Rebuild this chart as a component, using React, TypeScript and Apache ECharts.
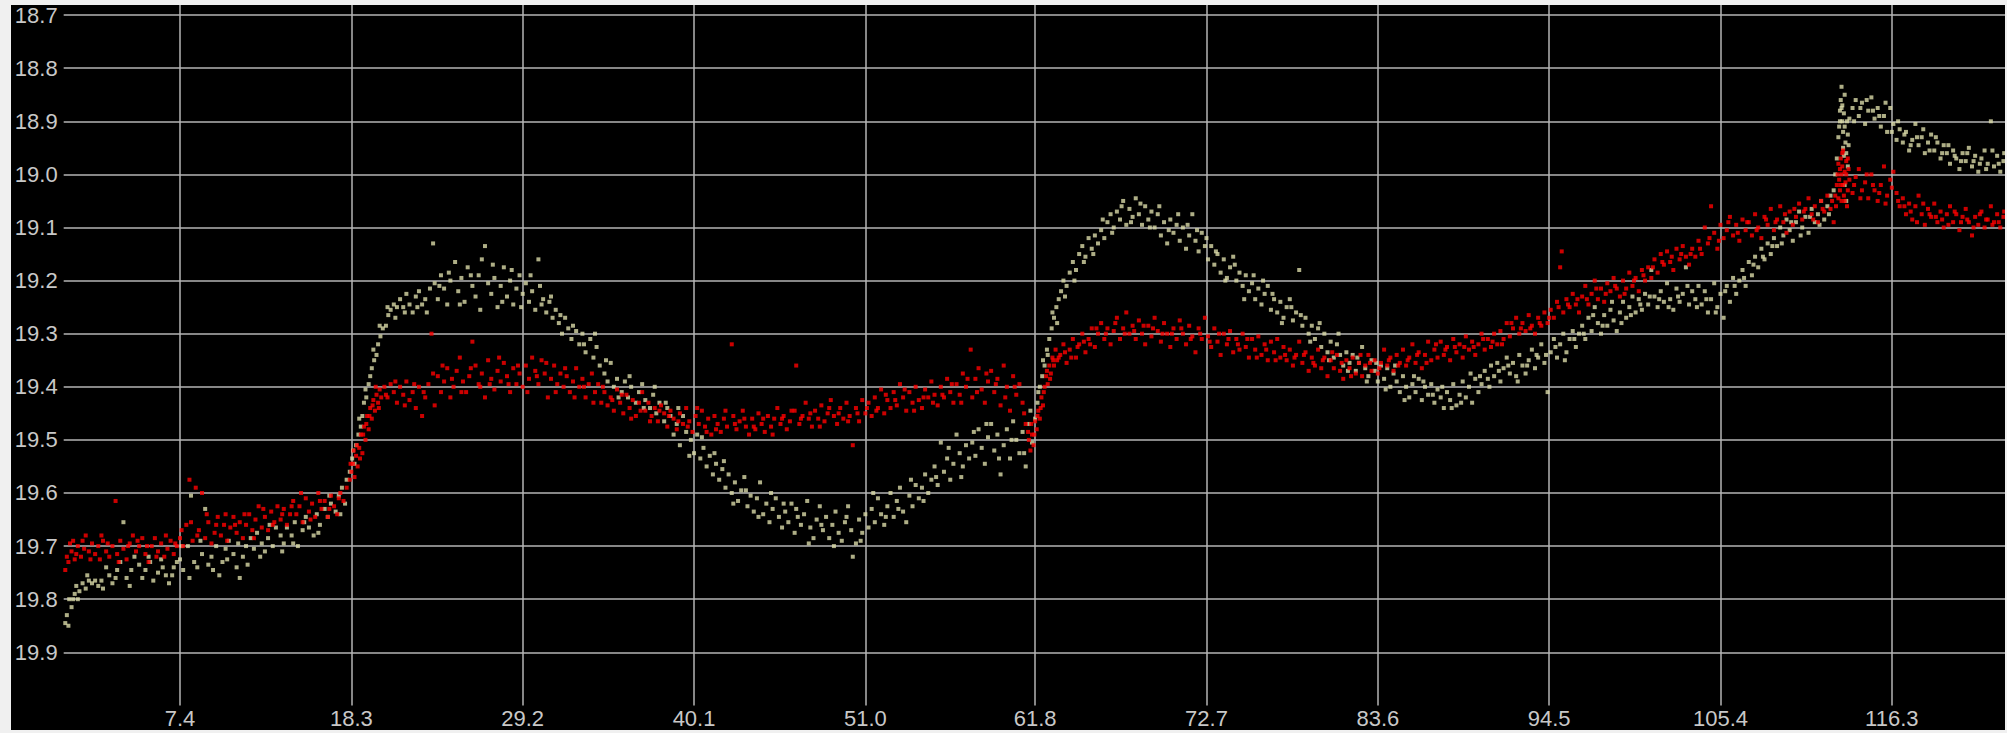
import React, { useEffect, useRef } from "react";
import * as echarts from "echarts";

const xTickValues = [7.4, 18.3, 29.2, 40.1, 51.0, 61.8, 72.7, 83.6, 94.5, 105.4, 116.3];
const yTickValues = [18.7, 18.8, 18.9, 19.0, 19.1, 19.2, 19.3, 19.4, 19.5, 19.6, 19.7, 19.8, 19.9];

const yellowPoints: [number, number][] = [
  [0.1,19.845],[0.2,19.83],[0.3,19.85],[0.5,19.815],[0.6,19.80],[0.7,19.79],[0.9,19.80],[1.0,19.785],[1.2,19.77],
  [1.4,19.78],[1.6,19.765],[1.8,19.77],[2.0,19.765],[2.2,19.775],[2.4,19.765],[2.7,19.74],[2.9,19.755],[3.1,19.77],[3.4,19.745],[3.6,19.73],[3.8,19.655],[4.0,19.76],[4.3,19.745],[4.5,19.72],[4.8,19.735],[5.0,19.76],[5.2,19.745],[5.5,19.73],[5.7,19.765],[6.0,19.75],[6.2,19.725],[6.5,19.755],[6.7,19.77],[7.0,19.74],[7.2,19.73],
  [7.4,19.725],[7.6,19.745],[7.9,19.70],[8.1,19.605],[8.3,19.73],[8.5,19.74],[8.8,19.715],[9.0,19.63],[9.2,19.735],[9.4,19.72],[9.7,19.70],[9.9,19.755],[10.1,19.73],[10.3,19.705],[10.5,19.69],[10.8,19.715],[11.0,19.74],[11.2,19.76],[11.4,19.72],[11.6,19.70],[11.9,19.685],[12.1,19.705],[12.3,19.675],[12.6,19.695],[12.8,19.71],[13.0,19.685],[13.3,19.70],[13.5,19.665],
  [13.8,19.68],[14.0,19.695],[14.2,19.665],[14.5,19.68],[14.7,19.655],[14.9,19.70],[15.2,19.67],[15.4,19.645],[15.6,19.665],[15.9,19.68],[16.1,19.64],[16.3,19.66],[16.6,19.63],[16.8,19.645],[17.0,19.62],[17.3,19.635],[17.5,19.605],[17.7,19.59],[17.9,19.62],[18.0,19.575],
  [18.2,19.56],[18.35,19.535],[18.5,19.545],[18.6,19.51],[18.75,19.49],[18.9,19.475],[19.0,19.455],[19.1,19.43],[19.25,19.42],[19.4,19.395],[19.5,19.38],[19.6,19.365],[19.75,19.35],[19.9,19.34],[20.0,19.32],[20.15,19.305],[20.3,19.29],[20.5,19.285],[20.65,19.265],[20.8,19.255],[21.0,19.245],[21.2,19.25],
  [21.4,19.235],[21.6,19.25],[21.8,19.225],[22.0,19.245],[22.2,19.26],[22.4,19.23],[22.6,19.22],[22.8,19.245],[23.0,19.235],
  [23.3,19.215],[23.5,19.13],[23.6,19.205],[23.8,19.235],[24.0,19.19],[24.2,19.215],[24.4,19.245],[24.6,19.20],[24.9,19.165],[25.1,19.22],[25.3,19.195],[25.5,19.24],[25.7,19.175],[26.0,19.21],[26.2,19.23],[26.4,19.19],[26.6,19.16],[26.8,19.135],[27.0,19.205],[27.2,19.225],[27.4,19.195],[27.6,19.25],[27.8,19.21],[28.0,19.175],[28.2,19.23],[28.4,19.20],[28.6,19.245],[28.8,19.215],[29.0,19.19],[29.2,19.225],
  [29.4,19.205],[29.6,19.24],[29.8,19.22],[30.0,19.255],[30.2,19.16],[30.3,19.21],[30.5,19.235],[30.7,19.26],[30.9,19.24],[31.1,19.27],
  [31.3,19.255],[31.5,19.28],[31.7,19.30],[31.9,19.27],[32.1,19.29],[32.3,19.31],[32.6,19.295],[32.8,19.32],[33.0,19.30],[33.2,19.335],[33.5,19.31],[33.7,19.345],[33.9,19.325],[34.1,19.36],
  [34.4,19.375],[34.6,19.39],[34.8,19.355],[35.0,19.40],[35.2,19.385],[35.5,19.41],[35.7,19.39],[35.9,19.42],[36.1,19.40],[36.4,19.43],[36.6,19.41],[36.8,19.395],[37.0,19.425],
  [37.3,19.44],[37.5,19.415],[37.7,19.45],[37.9,19.43],[38.2,19.465],[38.4,19.44],[38.6,19.455],[38.8,19.49],[39.0,19.47],[39.2,19.51],[39.4,19.455],[39.6,19.485],
  [39.9,19.50],[40.1,19.525],[40.3,19.49],[40.5,19.535],[40.7,19.515],[40.9,19.55],[41.1,19.53],[41.3,19.565],[41.5,19.545],[41.7,19.575],[41.9,19.555],[42.1,19.59],
  [42.3,19.565],[42.5,19.60],[42.7,19.58],[42.9,19.615],[43.1,19.595],[43.3,19.57],[43.5,19.625],[43.7,19.605],[43.9,19.635],[44.1,19.61],[44.3,19.58],[44.5,19.64],[44.7,19.62],[44.9,19.655],[45.1,19.63],[45.3,19.61],[45.5,19.645],[45.7,19.665],[45.9,19.635],[46.1,19.655],[46.3,19.62],[46.5,19.675],[46.7,19.645],[46.9,19.66],
  [47.1,19.64],[47.3,19.615],[47.5,19.665],[47.7,19.685],[47.9,19.65],[48.1,19.625],[48.3,19.67],[48.5,19.645],[48.7,19.685],[48.9,19.66],[49.1,19.635],[49.3,19.675],[49.5,19.69],[49.7,19.655],[49.9,19.625],[50.1,19.67],[50.2,19.72],[50.4,19.695],[50.6,19.65],[50.8,19.675],[51.0,19.64],
  [51.2,19.665],[51.4,19.63],[51.6,19.655],[51.8,19.61],[52.0,19.64],[52.2,19.66],[52.4,19.625],[52.6,19.60],[52.8,19.645],[53.0,19.615],[53.2,19.59],[53.4,19.635],[53.6,19.655],[53.8,19.605],[54.0,19.625],[54.2,19.585],[54.4,19.61],
  [54.6,19.59],[54.8,19.565],[55.0,19.60],[55.2,19.575],[55.4,19.55],[55.6,19.585],[55.8,19.505],[56.0,19.56],[56.2,19.535],[56.4,19.575],[56.6,19.545],[56.8,19.49],[57.0,19.525],[57.2,19.55],[57.4,19.51],[57.6,19.535],
  [57.8,19.505],[58.0,19.53],[58.2,19.48],[58.4,19.515],[58.6,19.545],[58.8,19.495],[59.0,19.47],[59.2,19.52],[59.4,19.49],[59.6,19.565],[59.8,19.51],[60.0,19.48],[60.2,19.535],[60.4,19.465],[60.6,19.50],[60.8,19.525],[61.0,19.485],[61.2,19.55],[61.4,19.47],[61.6,19.505],
  [61.8,19.46],[61.95,19.43],[62.1,19.40],[62.25,19.38],[62.4,19.36],[62.55,19.33],[62.7,19.31],[62.85,19.29],[63.0,19.27],[63.15,19.25],[63.3,19.235],[63.45,19.22],[63.6,19.20],[63.8,19.21],[64.0,19.185],
  [64.2,19.165],[64.4,19.18],[64.6,19.15],[64.8,19.135],[65.0,19.155],[65.2,19.12],[65.4,19.14],[65.6,19.115],[65.8,19.13],[66.0,19.105],[66.2,19.12],
  [66.4,19.09],[66.6,19.075],[66.8,19.10],[67.0,19.07],[67.2,19.085],[67.4,19.05],[67.6,19.095],[67.8,19.065],[68.0,19.08],[68.2,19.045],[68.4,19.075],[68.6,19.095],[68.8,19.06],[69.0,19.085],[69.2,19.07],
  [69.4,19.10],[69.6,19.075],[69.8,19.115],[70.0,19.09],[70.2,19.13],[70.4,19.085],[70.6,19.11],[70.8,19.095],[71.0,19.125],[71.2,19.10],[71.4,19.14],[71.6,19.115],[71.8,19.075],[72.0,19.125],[72.2,19.145],[72.4,19.11],[72.6,19.135],
  [72.8,19.16],[73.0,19.135],[73.2,19.17],[73.4,19.15],[73.6,19.185],[73.8,19.16],[74.0,19.195],[74.2,19.175],[74.4,19.155],[74.6,19.20],[74.8,19.185],[75.0,19.21],[75.2,19.19],[75.4,19.22],
  [75.6,19.205],[75.8,19.235],[76.0,19.215],[76.2,19.245],[76.4,19.225],[76.6,19.21],[76.8,19.255],[77.0,19.235],[77.2,19.26],[77.4,19.24],[77.6,19.27],[77.8,19.25],[78.0,19.235],[78.2,19.275],[78.4,19.26],[78.6,19.18],[78.8,19.285],
  [79.0,19.27],[79.2,19.30],[79.4,19.285],[79.6,19.31],[79.8,19.29],[80.0,19.325],[80.2,19.30],[80.4,19.335],[80.6,19.315],[80.8,19.345],[81.0,19.32],[81.2,19.34],[81.4,19.36],[81.6,19.335],[81.8,19.355],
  [82.0,19.34],[82.2,19.37],[82.4,19.355],[82.6,19.325],[82.8,19.365],[83.0,19.38],[83.2,19.35],[83.4,19.37],[83.6,19.39],[83.8,19.36],[84.0,19.385],[84.2,19.365],[84.4,19.40],[84.6,19.375],[84.8,19.39],[85.0,19.41],[85.2,19.38],[85.4,19.40],[85.6,19.42],[85.8,19.395],[86.0,19.41],[86.2,19.385],[86.4,19.425],[86.6,19.40],[86.8,19.415],[87.0,19.395],
  [87.2,19.43],[87.4,19.405],[87.6,19.42],[87.8,19.44],[88.0,19.41],[88.2,19.425],[88.4,19.395],[88.6,19.435],[88.8,19.415],[89.0,19.39],[89.2,19.42],[89.4,19.40],[89.6,19.43],[89.8,19.385],[90.0,19.41],[90.2,19.395],
  [90.4,19.37],[90.6,19.385],[90.8,19.36],[91.0,19.38],[91.2,19.355],[91.4,19.39],[91.6,19.365],[91.8,19.345],[92.0,19.375],[92.2,19.355],[92.4,19.38],[92.6,19.34],[92.8,19.36],[93.0,19.375],[93.2,19.35],[93.4,19.33],[93.6,19.365],[93.8,19.345],[94.0,19.32],[94.2,19.355],[94.4,19.41],
  [94.6,19.335],[94.8,19.31],[95.0,19.345],[95.2,19.32],[95.4,19.30],[95.6,19.335],[95.8,19.31],[96.0,19.295],[96.2,19.325],[96.4,19.30],
  [96.6,19.285],[96.8,19.31],[97.0,19.27],[97.2,19.295],[97.4,19.25],[97.6,19.28],[97.8,19.30],[98.0,19.265],[98.2,19.285],[98.4,19.255],[98.6,19.275],[98.8,19.295],[99.0,19.26],[99.2,19.24],[99.4,19.27],[99.6,19.25],[99.8,19.23],[100.0,19.26],
  [100.2,19.235],[100.4,19.255],[100.6,19.225],[100.8,19.245],[101.0,19.18],[101.2,19.23],[101.4,19.25],[101.6,19.22],[101.8,19.24],[102.0,19.205],[102.2,19.235],[102.4,19.255],[102.6,19.215],[102.8,19.24],[103.0,19.225],[103.2,19.175],[103.4,19.245],[103.6,19.22],[103.8,19.235],[104.0,19.21],
  [104.2,19.245],[104.4,19.22],[104.6,19.26],[104.8,19.235],[105.0,19.205],[105.2,19.25],[105.4,19.225],[105.6,19.27],[105.8,19.21],[106.0,19.24],[106.2,19.195],[106.4,19.225],
  [106.6,19.20],[106.8,19.18],[107.0,19.21],[107.2,19.165],[107.4,19.19],[107.6,19.155],[107.8,19.175],[108.0,19.14],[108.2,19.16],[108.4,19.13],[108.6,19.15],
  [108.8,19.12],[109.0,19.135],[109.2,19.10],[109.4,19.115],[109.6,19.085],[109.8,19.105],[110.0,19.125],[110.2,19.09],[110.4,19.07],[110.6,19.10],[110.8,19.08],[111.0,19.11],[111.2,19.065],[111.4,19.09],[111.6,19.075],[111.8,19.05],[112.0,19.085],[112.2,19.06],[112.4,19.04],
  [112.6,19.03],[112.7,19.0],[112.8,18.97],[112.9,18.93],[113.0,18.90],[113.0,18.88],[113.05,18.86],[113.1,18.835],[113.1,18.875],[113.15,18.90],[113.2,18.92],[113.2,18.95],[113.25,18.885],[113.3,18.91],[113.35,18.94],[113.4,18.96],[113.5,18.985],[113.5,18.925],[113.6,18.895],[113.3,19.02],[113.4,19.05],
  [113.8,18.875],[114.0,18.86],[114.2,18.89],[114.4,18.865],[114.6,18.905],[114.8,18.88],[115.0,18.855],[115.2,18.895],[115.4,18.875],[115.6,18.91],[115.8,18.89],[116.0,18.92],[116.2,18.875],[116.4,18.905],[116.6,18.935],
  [116.8,18.915],[117.0,18.94],[117.2,18.92],[117.4,18.955],[117.6,18.935],[117.8,18.905],[118.0,18.945],[118.2,18.93],[118.4,18.96],[118.6,18.94],[118.8,18.925],[119.0,18.955],[119.2,18.94],[119.4,18.97],[119.6,18.945],[119.8,18.96],[120.0,18.98],[120.2,18.955],[120.4,18.97],[120.6,18.99],[120.8,18.96],[121.0,18.975],[121.2,18.95],[121.4,18.985],[121.6,18.965],[121.8,18.995],[122.0,18.97],[122.2,18.955],[122.4,18.98],[122.6,18.90],[122.8,18.985],[123.0,18.965],[123.2,18.995],[123.4,18.975]
];

const yellowExtra: [number, number][] = [
  [0.35,19.80],[0.8,19.775],[1.5,19.755],[2.5,19.78],[3.3,19.76],[4.2,19.775],[5.4,19.72],[6.3,19.74],[6.9,19.755],
  [7.5,19.70],[8.0,19.76],[8.7,19.69],[9.5,19.745],[10.4,19.725],[11.1,19.695],[11.7,19.735],[12.5,19.72],[13.1,19.66],
  [13.9,19.71],[14.6,19.695],[15.3,19.655],[16.2,19.675],[16.9,19.605],[17.6,19.64],
  [18.4,19.52],[18.8,19.46],[19.2,19.405],[19.7,19.33],[20.1,19.285],[20.6,19.25],[21.1,19.27],
  [21.7,19.26],[22.5,19.25],[23.1,19.26],[23.9,19.21],[24.5,19.185],[25.2,19.245],[25.9,19.19],[26.5,19.255],[27.3,19.17],[27.9,19.24],[28.5,19.18],[29.1,19.25],[29.7,19.19],[30.4,19.245],[31.0,19.23],
  [31.6,19.265],[32.4,19.285],[33.1,19.32],[33.8,19.30],[34.5,19.35],[35.3,19.42],[36.0,19.38],[36.9,19.44],[37.6,19.40],[38.3,19.43],[39.1,19.44],[39.8,19.53],[40.6,19.495],[41.4,19.525],[42.0,19.54],
  [42.6,19.62],[43.4,19.595],[44.2,19.645],[45.0,19.60],[45.8,19.62],[46.6,19.63],[47.4,19.695],[48.2,19.66],[49.0,19.70],[49.8,19.645],[50.7,19.69],
  [51.5,19.60],[52.3,19.645],[53.1,19.63],[53.9,19.575],[54.7,19.615],[55.5,19.57],[56.3,19.515],[57.1,19.57],[57.9,19.485],[58.7,19.47],[59.5,19.535],[60.3,19.50],[61.1,19.525],[61.5,19.445],
  [62.0,19.41],[62.3,19.35],[62.6,19.34],[62.9,19.26],[63.2,19.28],[63.7,19.23],[64.3,19.20],[64.9,19.165],[65.5,19.15],[66.1,19.085],
  [66.7,19.11],[67.3,19.06],[67.9,19.09],[68.5,19.055],[69.1,19.10],[69.7,19.06],[70.3,19.105],[70.9,19.075],[71.5,19.095],[72.1,19.105],[72.7,19.12],
  [73.3,19.145],[73.9,19.20],[74.5,19.17],[75.1,19.235],[75.7,19.19],[76.3,19.20],[76.9,19.225],[77.5,19.28],[78.1,19.25],[78.7,19.265],[79.3,19.315],[79.9,19.28],[80.5,19.35],[81.1,19.30],[81.7,19.37],
  [82.3,19.345],[82.9,19.39],[83.5,19.355],[84.1,19.405],[84.7,19.36],[85.3,19.425],[85.9,19.38],[86.5,19.39],[87.1,19.415],[87.7,19.40],[88.3,19.44],[88.9,19.43],[89.5,19.375],[90.1,19.38],[90.7,19.40],[91.3,19.37],[91.9,19.36],[92.5,19.39],[93.1,19.36],[93.7,19.34],[94.3,19.34],
  [94.9,19.325],[95.5,19.35],[96.1,19.31],[96.7,19.30],[97.3,19.265],[97.9,19.285],[98.5,19.24],[99.1,19.28],[99.7,19.265],[100.3,19.245],[100.9,19.23],[101.5,19.235],[102.1,19.25],[102.7,19.23],[103.3,19.21],[103.9,19.25],
  [104.5,19.235],[105.1,19.26],[105.7,19.22],[106.3,19.21],[106.9,19.195],[107.5,19.17],[108.1,19.155],[108.7,19.135],[109.3,19.13],[109.9,19.09],[110.5,19.115],[111.1,19.08],[111.7,19.095],[112.3,19.075],
  [112.95,18.91],[113.15,18.87],[113.3,18.85],[113.45,18.90],[113.55,18.945],[113.25,18.965],
  [113.9,18.90],[114.3,18.875],[114.7,18.86],[115.1,18.88],[115.5,18.89],[115.9,18.865],[116.3,18.92],[116.7,18.90],[117.1,18.925],[117.5,18.945],[117.9,18.93],[118.3,18.915],[118.7,18.955],[119.1,18.93],[119.5,18.96],[119.9,18.945],[120.3,18.965],[120.7,18.975],[121.1,18.96],[121.5,18.975],[121.9,18.98],[122.3,18.99],[122.7,18.955],[123.1,18.98],[123.45,18.96]
];

const redPoints: [number, number][] = [
  [0.1,19.745],[0.2,19.72],[0.3,19.73],[0.5,19.71],[0.6,19.69],[0.8,19.715],[0.9,19.70],[1.1,19.72],[1.3,19.705],[1.4,19.68],[1.6,19.71],[1.8,19.695],[2.0,19.715],[2.2,19.70],[2.3,19.725],[2.5,19.69],[2.7,19.71],[2.9,19.72],[3.1,19.70],[3.3,19.615],[3.4,19.715],[3.6,19.69],[3.8,19.705],[4.0,19.725],[4.2,19.695],[4.4,19.68],[4.6,19.71],[4.8,19.70],[5.0,19.685],[5.2,19.715],[5.4,19.73],[5.6,19.70],[5.8,19.685],[6.0,19.71],[6.2,19.695],[6.4,19.72],[6.6,19.705],[6.8,19.69],[7.0,19.715],
  [7.2,19.70],[7.4,19.685],[7.6,19.70],[7.8,19.66],[8.0,19.575],[8.2,19.69],[8.4,19.59],[8.6,19.67],[8.8,19.60],[9.0,19.685],[9.2,19.655],[9.4,19.695],[9.6,19.675],[9.8,19.645],[10.0,19.68],[10.2,19.66],
  [10.4,19.69],[10.6,19.665],[10.8,19.645],[11.0,19.675],[11.2,19.655],[11.4,19.685],[11.6,19.66],[11.8,19.64],[12.0,19.67],[12.2,19.65],[12.4,19.625],[12.6,19.665],[12.8,19.645],[13.0,19.67],[13.2,19.635],[13.4,19.655],[13.6,19.625],[13.8,19.65],[14.0,19.63],[14.2,19.66],[14.4,19.64],
  [14.6,19.615],[14.8,19.64],[15.0,19.625],[15.2,19.655],[15.4,19.61],[15.6,19.635],[15.8,19.62],[16.0,19.645],[16.2,19.60],[16.4,19.63],[16.6,19.615],[16.8,19.645],[17.0,19.605],[17.2,19.625],[17.4,19.64],[17.6,19.60],[17.8,19.615],[18.0,19.59],
  [18.2,19.575],[18.3,19.56],[18.4,19.545],[18.5,19.57],[18.6,19.53],[18.7,19.55],[18.8,19.515],[18.9,19.49],[19.0,19.525],[19.1,19.475],[19.2,19.50],[19.3,19.455],[19.4,19.48],[19.5,19.44],[19.6,19.46],[19.7,19.425],[19.8,19.445],[19.9,19.415],[20.0,19.43],[20.1,19.405],[20.2,19.42],
  [20.4,19.40],[20.6,19.42],[20.8,19.395],[21.0,19.41],[21.2,19.43],[21.4,19.40],[21.6,19.415],[21.8,19.39],[22.0,19.425],[22.2,19.41],[22.4,19.44],[22.6,19.40],[22.8,19.455],[23.0,19.42],
  [23.2,19.395],[23.4,19.30],[23.6,19.435],[23.8,19.38],[24.0,19.41],[24.2,19.39],[24.4,19.365],[24.6,19.42],[24.8,19.40],[25.0,19.37],[25.2,19.345],[25.4,19.39],[25.6,19.41],[25.8,19.38],[26.0,19.315],[26.2,19.36],[26.4,19.395],[26.6,19.375],[26.8,19.42],[27.0,19.35],[27.2,19.385],[27.4,19.405],[27.6,19.37],[27.8,19.39],[28.0,19.355],[28.2,19.38],[28.4,19.41],[28.6,19.365],[28.8,19.395],[29.0,19.375],
  [29.2,19.40],[29.4,19.36],[29.6,19.385],[29.8,19.345],[30.0,19.37],[30.2,19.395],[30.4,19.35],[30.6,19.375],[30.8,19.42],[31.0,19.385],[31.2,19.36],[31.4,19.395],[31.6,19.375],[31.8,19.40],[32.0,19.38],[32.2,19.41],[32.4,19.39],[32.6,19.365],[32.8,19.40],[33.0,19.385],[33.2,19.42],[33.4,19.395],[33.6,19.375],[33.8,19.41],[34.0,19.395],[34.2,19.43],
  [34.4,19.41],[34.6,19.435],[34.8,19.42],[35.0,19.445],[35.2,19.405],[35.4,19.43],[35.6,19.45],[35.8,19.415],[36.0,19.44],[36.2,19.425],[36.4,19.455],[36.6,19.43],[36.8,19.41],[37.0,19.445],
  [37.2,19.43],[37.4,19.455],[37.6,19.44],[37.8,19.465],[38.0,19.435],[38.2,19.45],[38.4,19.475],[38.6,19.445],[38.8,19.46],[39.0,19.48],[39.2,19.45],[39.4,19.47],[39.6,19.44],[39.8,19.465],[40.0,19.485],[40.2,19.455],[40.4,19.47],[40.6,19.445],[40.8,19.475],[41.0,19.46],[41.2,19.49],[41.4,19.455],[41.6,19.47],[41.8,19.485],[42.0,19.46],
  [42.2,19.475],[42.5,19.32],[42.6,19.455],[42.8,19.48],[43.0,19.465],[43.2,19.445],[43.4,19.475],[43.6,19.49],[43.8,19.46],[44.0,19.48],[44.2,19.45],[44.4,19.47],[44.6,19.485],[44.8,19.455],[45.0,19.475],[45.2,19.46],[45.4,19.44],[45.6,19.47],[45.8,19.455],[46.0,19.48],
  [46.2,19.465],[46.5,19.445],[46.6,19.36],[46.8,19.47],[47.0,19.455],[47.2,19.43],[47.4,19.46],[47.6,19.475],[47.8,19.445],[48.0,19.46],[48.2,19.435],[48.4,19.465],[48.6,19.45],[48.8,19.425],[49.0,19.455],[49.2,19.47],[49.4,19.44],[49.6,19.46],[49.8,19.43],[50.0,19.455],[50.2,19.51],[50.4,19.44],[50.6,19.465],[50.8,19.425],[51.0,19.45],
  [51.2,19.43],[51.4,19.455],[51.6,19.42],[51.8,19.44],[52.0,19.405],[52.2,19.45],[52.4,19.425],[52.6,19.44],[52.8,19.41],[53.0,19.435],[53.2,19.395],[53.4,19.42],[53.6,19.445],[53.8,19.41],[54.0,19.43],[54.2,19.40],[54.4,19.425],[54.6,19.44],[54.8,19.405],[55.0,19.42],[55.2,19.39],[55.4,19.415],[55.6,19.435],[55.8,19.40],[56.0,19.42],[56.2,19.385],[56.4,19.41],[56.6,19.43],
  [56.8,19.395],[57.0,19.415],[57.2,19.375],[57.4,19.40],[57.7,19.33],[57.8,19.42],[58.0,19.385],[58.2,19.365],[58.4,19.405],[58.6,19.43],[58.8,19.39],[59.0,19.37],[59.2,19.41],[59.4,19.385],[59.6,19.435],[59.8,19.36],[60.0,19.40],[60.2,19.445],[60.4,19.38],[60.6,19.415],[60.8,19.395],[61.0,19.43],
  [61.2,19.47],[61.4,19.50],[61.5,19.52],[61.6,19.49],[61.7,19.51],[61.8,19.465],[61.9,19.48],[62.0,19.445],[62.1,19.46],[62.2,19.42],[62.3,19.435],[62.4,19.40],[62.5,19.38],[62.6,19.395],[62.7,19.36],[62.8,19.375],[62.9,19.345],[63.0,19.36],[63.1,19.33],[63.2,19.35],
  [63.4,19.34],[63.6,19.32],[63.8,19.355],[64.0,19.33],[64.2,19.31],[64.4,19.345],[64.6,19.32],[64.8,19.30],[65.0,19.335],[65.2,19.31],[65.4,19.29],[65.6,19.325],[65.8,19.30],[66.0,19.28],
  [66.2,19.31],[66.4,19.29],[66.6,19.32],[66.8,19.295],[67.0,19.27],[67.2,19.31],[67.4,19.29],[67.6,19.26],[67.8,19.30],[68.0,19.285],[68.2,19.31],[68.4,19.275],[68.6,19.30],[68.8,19.32],[69.0,19.285],[69.2,19.305],[69.4,19.27],[69.6,19.295],[69.8,19.315],[70.0,19.28],[70.2,19.30],[70.4,19.325],[70.6,19.29],[70.8,19.31],[71.0,19.275],[71.2,19.30],[71.4,19.32],[71.6,19.285],[71.8,19.305],[72.0,19.335],[72.2,19.29],[72.4,19.31],[72.6,19.27],
  [72.8,19.305],[73.0,19.325],[73.2,19.29],[73.4,19.315],[73.6,19.34],[73.8,19.30],[74.0,19.32],[74.2,19.295],[74.4,19.335],[74.6,19.31],[74.8,19.33],[75.0,19.30],[75.2,19.325],[75.4,19.345],[75.6,19.31],[75.8,19.33],[76.0,19.305],[76.2,19.34],[76.4,19.32],[76.6,19.35],[76.8,19.315],[77.0,19.335],[77.2,19.31],[77.4,19.345],
  [77.6,19.325],[77.8,19.35],[78.0,19.33],[78.2,19.36],[78.4,19.34],[78.6,19.315],[78.8,19.355],[79.0,19.335],[79.2,19.37],[79.4,19.345],[79.6,19.36],[79.8,19.33],[80.0,19.365],[80.2,19.345],[80.4,19.38],[80.6,19.35],[80.8,19.365],[81.0,19.34],[81.2,19.37],[81.4,19.385],[81.6,19.35],[81.8,19.365],[82.0,19.345],[82.2,19.375],[82.4,19.355],[82.6,19.38],[82.8,19.36],[83.0,19.34],[83.2,19.37],[83.4,19.35],[83.6,19.375],[83.8,19.355],[84.0,19.33],[84.2,19.36],[84.4,19.345],
  [84.6,19.37],[84.8,19.34],[85.0,19.355],[85.2,19.33],[85.4,19.36],[85.6,19.345],[85.8,19.32],[86.0,19.355],[86.2,19.335],[86.4,19.365],[86.6,19.34],[86.8,19.315],
  [87.0,19.35],[87.2,19.33],[87.4,19.345],[87.6,19.315],[87.8,19.34],[88.0,19.325],[88.2,19.35],[88.4,19.31],[88.6,19.335],[88.8,19.32],[89.0,19.345],[89.2,19.305],[89.4,19.33],[89.6,19.315],[89.8,19.34],[90.0,19.32],[90.2,19.30],[90.4,19.33],[90.6,19.31],[90.8,19.325],[91.0,19.30],[91.2,19.32],
  [91.4,19.295],[91.6,19.31],[91.8,19.28],[92.0,19.305],[92.2,19.29],[92.4,19.27],[92.6,19.30],[92.8,19.28],[93.0,19.295],[93.2,19.265],[93.4,19.285],[93.6,19.30],[93.8,19.27],[94.0,19.285],[94.2,19.26],[94.4,19.28],
  [94.6,19.255],[94.8,19.27],[95.0,19.24],[95.2,19.175],[95.3,19.145],[95.4,19.26],[95.6,19.235],[95.8,19.25],[96.0,19.225],[96.2,19.245],[96.4,19.26],[96.6,19.23],[96.8,19.21],[97.0,19.245],
  [97.2,19.225],[97.4,19.20],[97.6,19.235],[97.8,19.215],[98.0,19.24],[98.2,19.205],[98.4,19.22],[98.6,19.195],[98.8,19.215],[99.0,19.23],[99.2,19.20],[99.4,19.215],[99.6,19.185],[99.8,19.21],[100.0,19.195],[100.2,19.22],[100.4,19.18],[100.6,19.20],[100.8,19.175],
  [101.0,19.195],[101.2,19.16],[101.4,19.185],[101.6,19.15],[101.8,19.17],[102.0,19.145],[102.2,19.165],[102.4,19.18],[102.6,19.14],[102.8,19.16],[103.0,19.135],[103.2,19.155],[103.4,19.17],[103.6,19.14],[103.8,19.155],[104.0,19.125],[104.4,19.10],[104.8,19.06],
  [104.2,19.15],[104.6,19.13],[105.0,19.11],[105.2,19.14],[105.4,19.095],[105.6,19.12],[105.8,19.105],[106.0,19.08],[106.2,19.115],[106.4,19.095],[106.6,19.125],[106.8,19.085],[107.0,19.105],
  [107.2,19.09],[107.4,19.115],[107.6,19.075],[107.8,19.10],[108.0,19.12],[108.2,19.08],[108.4,19.095],[108.6,19.065],[108.8,19.105],[109.0,19.085],[109.2,19.06],[109.4,19.09],[109.6,19.11],[109.8,19.07],[110.0,19.095],[110.2,19.08],[110.4,19.055],[110.6,19.085],[110.8,19.065],[111.0,19.045],[111.2,19.075],[111.4,19.06],[111.6,19.09],[111.8,19.05],[112.0,19.07],[112.2,19.04],[112.4,19.065],[112.6,19.09],
  [112.7,19.04],[112.8,19.02],[112.85,19.0],[112.9,18.98],[112.95,19.01],[113.0,18.99],[113.0,19.03],[113.05,18.97],[113.1,19.0],[113.1,19.05],[113.15,18.985],[113.2,19.02],[113.2,18.955],[113.25,19.04],[113.3,18.995],[113.35,19.015],[113.4,18.975],[113.45,19.06],[113.5,19.03],[113.55,18.99],[113.6,19.01],
  [113.8,19.035],[114.0,19.005],[114.2,18.99],[114.4,19.03],[114.6,19.015],[114.8,19.045],[115.0,19.0],[115.2,19.03],[115.4,19.05],[115.6,19.02],[115.8,18.985],[116.0,19.04],[116.2,19.01],[116.4,18.995],[116.6,19.035],
  [116.8,19.06],[117.0,19.045],[117.2,19.075],[117.4,19.055],[117.6,19.085],[117.8,19.06],[118.0,19.04],[118.2,19.075],[118.4,19.095],[118.6,19.065],[118.8,19.08],[119.0,19.055],[119.2,19.09],[119.4,19.07],[119.6,19.10],[119.8,19.075],[120.0,19.06],[120.2,19.09],[120.4,19.075],[120.6,19.105],[120.8,19.08],[121.0,19.065],[121.2,19.09],[121.4,19.115],[121.6,19.08],[121.8,19.095],[122.0,19.07],[122.2,19.10],[122.4,19.085],[122.6,19.06],[122.8,19.09],[123.0,19.075],[123.2,19.10],[123.4,19.08]
];

const redExtra: [number, number][] = [
  [0.4,19.695],[0.7,19.725],[1.2,19.69],[1.7,19.725],[2.4,19.68],[2.8,19.695],[3.5,19.73],[4.1,19.70],[4.7,19.69],[5.3,19.70],[5.9,19.72],[6.5,19.68],[7.1,19.695],
  [7.5,19.67],[8.1,19.655],[8.5,19.68],[9.1,19.64],[9.7,19.66],[10.3,19.64],[10.9,19.66],[11.5,19.64],[12.1,19.685],[12.7,19.63],[13.3,19.66],[13.9,19.64],
  [14.5,19.625],[15.1,19.60],[15.7,19.65],[16.3,19.615],[16.9,19.63],[17.5,19.61],
  [18.25,19.545],[18.45,19.52],[18.65,19.51],[18.85,19.535],[19.05,19.49],[19.25,19.47],[19.45,19.455],[19.65,19.435],[19.85,19.40],[20.05,19.44],
  [20.5,19.415],[21.1,19.39],[21.7,19.435],[22.3,19.395],[22.9,19.41],[23.5,19.375],[24.1,19.36],[24.7,19.385],[25.3,19.41],[25.9,19.365],[26.5,19.40],[27.1,19.395],[27.7,19.345],[28.3,19.395],[28.9,19.36],[29.5,19.41],[30.1,19.38],[30.7,19.355],[31.3,19.41],[31.9,19.365],[32.5,19.42],[33.1,19.40],[33.7,19.43],
  [34.3,19.40],[34.9,19.425],[35.5,19.415],[36.1,19.46],[36.7,19.445],[37.3,19.465],[37.9,19.445],[38.5,19.455],[39.1,19.465],[39.7,19.475],[40.3,19.44],[40.9,19.485],[41.5,19.48],[42.1,19.445],[42.7,19.47],[43.3,19.46],[43.9,19.475],[44.5,19.46],[45.1,19.49],[45.7,19.46],
  [46.3,19.445],[46.9,19.46],[47.5,19.45],[48.1,19.475],[48.7,19.44],[49.3,19.45],[49.9,19.465],[50.5,19.45],[51.1,19.44],[51.7,19.445],[52.3,19.415],[52.9,19.425],[53.5,19.405],[54.1,19.445],[54.7,19.42],[55.3,19.43],[55.9,19.415],[56.5,19.395],[57.1,19.43],[57.5,19.385],[58.1,19.41],[58.7,19.375],[59.3,19.395],[59.9,19.42],[60.5,19.40],[61.1,19.45],
  [61.35,19.485],[61.55,19.47],[61.75,19.49],[61.95,19.455],[62.15,19.44],[62.35,19.41],[62.55,19.37],[62.75,19.385],[62.95,19.35],[63.3,19.345],[63.7,19.335],[64.1,19.345],[64.5,19.325],[64.9,19.315],[65.3,19.32],[65.7,19.29],
  [66.3,19.30],[66.9,19.28],[67.5,19.30],[68.1,19.295],[68.7,19.285],[69.3,19.29],[69.9,19.30],[70.5,19.30],[71.1,19.29],[71.7,19.31],[72.3,19.30],[72.9,19.315],[73.5,19.30],[74.1,19.31],[74.7,19.32],[75.3,19.31],[75.9,19.345],[76.5,19.33],[77.1,19.35],[77.7,19.34],[78.3,19.345],[78.9,19.34],[79.5,19.355],[80.1,19.35],[80.7,19.335],[81.3,19.355],[81.9,19.38],[82.5,19.34],[83.1,19.355],[83.7,19.365],[84.3,19.35],
  [84.9,19.36],[85.5,19.35],[86.1,19.34],[86.7,19.355],[87.3,19.32],[87.9,19.33],[88.5,19.325],[89.1,19.325],[89.7,19.325],[90.3,19.31],[90.9,19.315],[91.5,19.32],[92.1,19.28],[92.7,19.29],[93.3,19.29],[93.9,19.28],
  [94.5,19.27],[95.1,19.25],[95.7,19.245],[96.3,19.235],[96.9,19.235],[97.5,19.215],[98.1,19.225],[98.7,19.21],[99.3,19.225],[99.9,19.20],[100.5,19.19],[101.1,19.175],[101.7,19.165],[102.3,19.155],[102.9,19.15],[103.5,19.15],[104.1,19.14],
  [104.7,19.12],[105.3,19.125],[105.9,19.09],[106.5,19.11],[107.1,19.09],[107.7,19.105],[108.3,19.085],[108.9,19.09],[109.5,19.075],[110.1,19.065],[110.7,19.07],[111.3,19.085],[111.9,19.065],[112.5,19.05],
  [112.75,19.06],[112.9,19.045],[113.05,19.02],[113.15,18.96],[113.3,19.05],[113.4,19.0],[113.5,18.97],
  [113.9,19.02],[114.3,19.045],[114.7,19.0],[115.1,19.02],[115.5,19.035],[115.9,19.055],[116.3,19.025],[116.7,19.05],[117.1,19.06],[117.5,19.07],[117.9,19.09],[118.3,19.055],[118.7,19.075],[119.1,19.08],[119.5,19.085],[119.9,19.095],[120.3,19.07],[120.7,19.09],[121.1,19.085],[121.5,19.10],[121.9,19.075],[122.3,19.085],[122.7,19.095],[123.1,19.09],[123.45,19.07]
];

export default function App() {
  const ref = useRef<HTMLDivElement>(null);
  useEffect(() => {
    if (!ref.current) return;
    const chart = echarts.init(ref.current, null, { renderer: "svg" });
    const labelStyle = {
      color: "#c8c8c8",
      fontSize: 22,
      lineHeight: 18,
      fontFamily: "Liberation Sans, Arial, sans-serif",
    };
    chart.setOption({
      animation: false,
      backgroundColor: "#000000",
      grid: {
        left: 52.7,
        right: 0,
        top: 0,
        bottom: 24.6,
        containLabel: false,
        outerBoundsMode: "none",
      },
      xAxis: {
        type: "value",
        min: 0,
        max: 123.5,
        axisLine: { show: false },
        axisTick: { show: false, customValues: xTickValues },
        axisLabel: {
          ...labelStyle,
          customValues: xTickValues,
          margin: 4,
          formatter: (v: number) => v.toFixed(1),
        },
        splitLine: { show: true, lineStyle: { color: "#b4b4b4", width: 1.5 } },
      },
      yAxis: {
        type: "value",
        inverse: true,
        min: 18.681,
        max: 20.0,
        axisLine: { show: false },
        axisTick: { show: false, customValues: yTickValues },
        axisLabel: {
          ...labelStyle,
          customValues: yTickValues,
          margin: 6,
          formatter: (v: number) => v.toFixed(1),
        },
        splitLine: { show: true, lineStyle: { color: "#b4b4b4", width: 1.5 } },
      },
      series: [
        {
          type: "scatter",
          data: yellowPoints.concat(yellowExtra),
          symbol: "rect",
          symbolSize: 4,
          itemStyle: { color: "#dadaa8" },
          silent: true,
        },
        {
          type: "scatter",
          data: redPoints.concat(redExtra),
          symbol: "rect",
          symbolSize: 4,
          itemStyle: { color: "#ff0000" },
          silent: true,
        },
      ],
    });
    return () => chart.dispose();
  }, []);
  return (
    <div
      style={{
        position: "fixed",
        left: 0,
        top: 0,
        width: 2007,
        height: 733,
        background: "#f0f0f0",
        overflow: "hidden",
      }}
    >
      <div
        ref={ref}
        style={{ position: "absolute", left: 11, top: 5, width: 1994, height: 725 }}
      />
    </div>
  );
}
